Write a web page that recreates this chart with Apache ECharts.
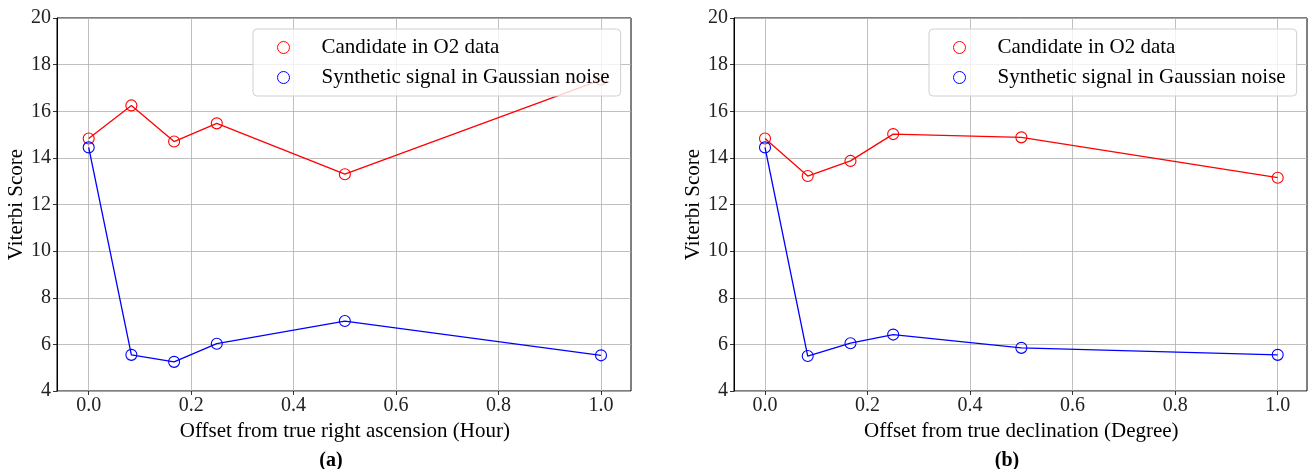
<!DOCTYPE html>
<html>
<head>
<meta charset="utf-8">
<script src="https://cdn.jsdelivr.net/npm/echarts@6/dist/echarts.min.js"></script>
<style>
html,body{margin:0;padding:0;background:#fff;}
#chart{width:1309px;height:469px;}
</style>
</head>
<body>
<div id="chart"></div>
<script>
// ---- data ----
const offsets = [0, 0.0833, 0.1667, 0.25, 0.5, 1.0];
const raCandidate = [14.83, 16.25, 14.7, 15.48, 13.3, 17.35];
const raSynthetic = [14.45, 5.55, 5.25, 6.03, 7.0, 5.53];
const decCandidate = [14.83, 13.22, 13.87, 15.02, 14.88, 13.15];
const decSynthetic = [14.45, 5.5, 6.05, 6.42, 5.85, 5.55];
const seriesNames = ['Candidate in O2 data', 'Synthetic signal in Gaussian noise'];
const xAxisNames = ['Offset from true right ascension (Hour)', 'Offset from true declination (Degree)'];
const yAxisName = 'Viterbi Score';
const panelLabels = ['(a)', '(b)'];
const yTicks = { min: 4, max: 20, step: 2 };
const xTicks = { min: 0, max: 1, step: 0.2 };

const FONT = 'Liberation Serif';
const RED = '#ff0000', BLUE = '#0000ff';
const GRIDC = '#b0b0b0';

const chart = echarts.init(document.getElementById('chart'), null, { renderer: 'canvas' });

// panel geometry (frame grid and inner data grid)
const panels = [
  { frameLeft: 57, frameRight: 1309 - 631, dataLeft: 88.7, dataRight: 1309 - 601, legendLeft: 253, labelX: 331 },
  { frameLeft: 734, frameRight: 1309 - 1307, dataLeft: 765, dataRight: 1309 - 1277.7, legendLeft: 929, labelX: 1007 }
];
const TOP = 18, BOTTOM = 469 - 391;

const grids = [], xAxes = [], yAxes = [], series = [], legends = [], graphics = [];
const dataSets = [[raCandidate, raSynthetic], [decCandidate, decSynthetic]];

panels.forEach((p, i) => {
  grids.push({ left: p.frameLeft, right: p.frameRight, top: TOP, bottom: BOTTOM, show: true, borderColor: '#000', borderWidth: 1, backgroundColor: 'transparent' });
  grids.push({ left: p.dataLeft, right: p.dataRight, top: TOP, bottom: BOTTOM, show: false });
  const gf = 2 * i, gd = 2 * i + 1;
  xAxes.push({ gridIndex: gf, type: 'value', min: 0, max: 1, show: false });
  yAxes.push({
    gridIndex: gf, type: 'value', min: yTicks.min, max: yTicks.max, interval: yTicks.step,
    name: yAxisName, nameLocation: 'middle', nameGap: 29,
    nameTextStyle: { fontFamily: FONT, fontSize: 21, color: '#000' },
    axisLine: { show: true, lineStyle: { color: '#000', width: 1 } },
    axisTick: { show: true, inside: false, length: 4, lineStyle: { color: '#000', width: 0.8 } },
    axisLabel: { fontFamily: FONT, fontSize: 20, color: '#222', margin: 6 },
    splitLine: { show: true, lineStyle: { color: GRIDC, width: 0.8 } }
  });
  xAxes.push({
    gridIndex: gd, type: 'value', min: xTicks.min, max: xTicks.max, interval: xTicks.step,
    name: xAxisNames[i], nameLocation: 'middle', nameGap: 27,
    nameTextStyle: { fontFamily: FONT, fontSize: 21, color: '#000' },
    axisLine: { show: false },
    axisTick: { show: true, inside: false, length: 4, lineStyle: { color: '#000', width: 0.8 } },
    axisLabel: { fontFamily: FONT, fontSize: 20, color: '#222', margin: 5, formatter: v => v.toFixed(1) },
    splitLine: { show: true, lineStyle: { color: GRIDC, width: 0.8 } }
  });
  yAxes.push({ gridIndex: gd, type: 'value', min: yTicks.min, max: yTicks.max, show: false, splitLine: { show: false } });

  const xi = 2 * i + 1, yi = 2 * i + 1;
  dataSets[i].forEach((vals, k) => {
    const col = k === 0 ? RED : BLUE;
    series.push({
      name: seriesNames[k], type: 'line', xAxisIndex: xi, yAxisIndex: yi,
      data: offsets.map((x, j) => [x, vals[j]]),
      symbol: 'circle', symbolSize: 11, clip: false, z: 3,
      lineStyle: { color: col, width: 1.3 },
      itemStyle: { color: 'rgba(255,255,255,0)', borderColor: col, borderWidth: 1.1 },
      emphasis: { disabled: true }, animation: false
    });
  });

  legends.push({
    left: p.legendLeft, top: 29, orient: 'vertical', z: 10,
    backgroundColor: 'rgba(255,255,255,0.8)', borderColor: '#d0d0d0', borderWidth: 1, borderRadius: 4,
    padding: [8, 11, 8, 24],
    itemWidth: 12, itemHeight: 12, itemGap: 9,
    selectedMode: false,
    textStyle: { fontFamily: FONT, fontSize: 21, color: '#000', lineHeight: 21, padding: [0, 0, 0, 27] },
    data: [
      { name: seriesNames[0], icon: 'circle', itemStyle: { color: 'rgba(255,255,255,0)', borderColor: RED, borderWidth: 1 } },
      { name: seriesNames[1], icon: 'circle', itemStyle: { color: 'rgba(255,255,255,0)', borderColor: BLUE, borderWidth: 1 } }
    ]
  });

  graphics.push({
    type: 'text', x: p.labelX, y: 461, z: 10,
    style: { text: panelLabels[i], fontFamily: FONT, fontSize: 20, fontWeight: 'bold', fill: '#000', align: 'center', verticalAlign: 'middle' }
  });
});

chart.setOption({
  animation: false,
  grid: grids, xAxis: xAxes, yAxis: yAxes, series: series, legend: legends, graphic: graphics
});
</script>
</body>
</html>
